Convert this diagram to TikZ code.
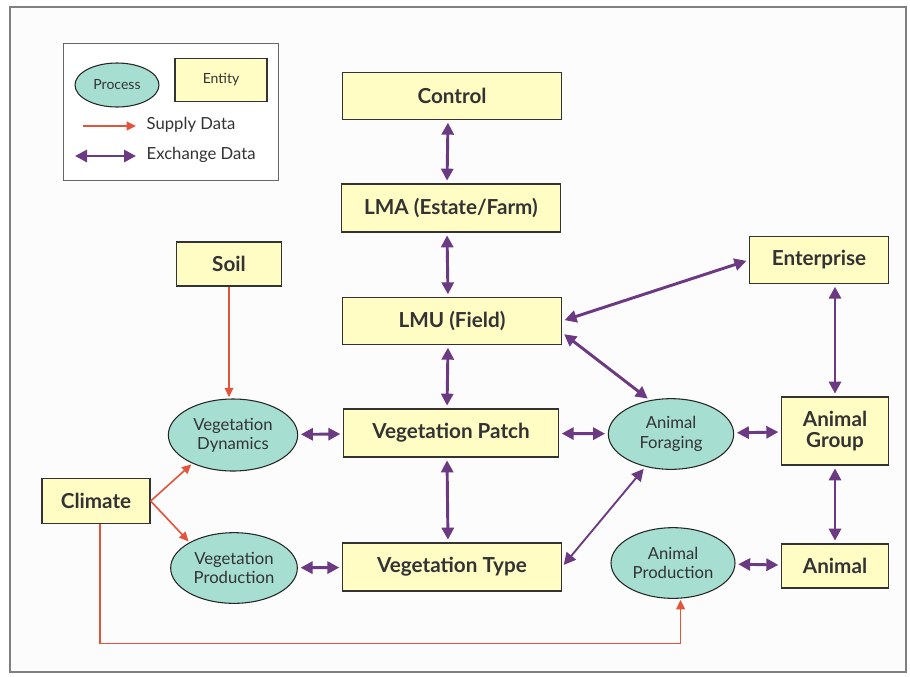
\documentclass[tikz,border=0pt]{standalone}
\usepackage{fontspec}
\setmainfont{Lato}
\usetikzlibrary{arrows.meta,shapes.geometric}

\definecolor{entityfill}{HTML}{FFFDC4}
\definecolor{processfill}{HTML}{A6DFD1}
\definecolor{exchpurple}{HTML}{6B3A82}
\definecolor{supplyred}{HTML}{E2553A}
\definecolor{textgray}{HTML}{333333}

\begin{document}
\begin{tikzpicture}[x=0.75pt, y=-0.75pt,
    entity/.style={rectangle, draw=black!80, line width=1pt, fill=entityfill, text=textgray, font=\fontsize{15.5}{18}\selectfont\bfseries, align=center, inner sep=2pt},
    process/.style={ellipse, draw=black!85, line width=0.8pt, fill=processfill, text=textgray, font=\fontsize{12.5}{14.5}\selectfont, align=center, inner sep=0pt},
    exchange/.style={{Triangle[length=9pt,width=9pt]}-{Triangle[length=9pt,width=9pt]}, draw=exchpurple, line width=2.2pt, shorten <=2pt, shorten >=2pt},
    thinexchange/.style={exchange, line width=1.4pt},
    supply/.style={-{Triangle[length=7pt,width=6.5pt]}, draw=supplyred, line width=1.2pt, shorten >=1pt},
    legendtext/.style={anchor=west, text=textgray, font=\fontsize{12.5}{15}\selectfont},
]
    \useasboundingbox (0,0) rectangle (910,676);
    \draw[black!50, line width=1.1pt, fill=black!1] (10,7) rectangle (906,672);

    % legend
    \node[draw=black!60, line width=0.9pt, fill=white, minimum width=161pt, minimum height=103pt] (legend) at (171,112) {};
    \node[process, minimum width=63pt, minimum height=33pt, font=\fontsize{10.5}{12}\selectfont] (legproc) at (117,85) {Process};
    \node[entity, minimum width=69pt, minimum height=32pt, font=\fontsize{10.5}{12}\selectfont] (legent) at (221,80) {Entity};
    \coordinate (sa) at (83,126);
    \coordinate (sb) at (136,126);
    \coordinate (ea) at (75,156);
    \coordinate (eb) at (136,156);
    \draw[supply, shorten >=0pt] (sa) -- (sb);
    \draw[exchange, shorten <=0pt, shorten >=0pt] (ea) -- (eb);
    \node[legendtext] (legsupply) at (142,125) {Supply Data};
    \node[legendtext] (legexch) at (142,155) {Exchange Data};

    % entities
    \node[entity, minimum width=164pt, minimum height=35pt] (control) at (452,96) {Control};
    \node[entity, minimum width=164pt, minimum height=36pt] (lma) at (451,208) {LMA (Estate/Farm)};
    \node[entity, minimum width=164pt, minimum height=35pt] (lmu) at (452,321) {LMU (Field)};
    \node[entity, minimum width=161pt, minimum height=36pt] (vegpatch) at (451,433) {Vegetation Patch};
    \node[entity, minimum width=164pt, minimum height=36pt] (vegtype) at (452,567) {Vegetation Type};
    \node[entity, minimum width=79pt, minimum height=33pt] (soil) at (229,264) {Soil};
    \node[entity, minimum width=81pt, minimum height=34pt] (climate) at (96,501) {Climate};
    \node[entity, minimum width=104pt, minimum height=35pt] (enterprise) at (819,260) {Enterprise};
    \node[entity, minimum width=80pt, minimum height=51pt] (animgroup) at (835,431) {Animal\\[-2pt]Group};
    \node[entity, minimum width=80pt, minimum height=33pt] (animal) at (835,566) {Animal};

    % processes
    \node[process, minimum width=97pt, minimum height=54pt] (vegdyn) at (233,435) {Vegetation\\Dynamics};
    \node[process, minimum width=95pt, minimum height=53pt] (vegprod) at (234,568) {Vegetation\\Production};
    \node[process, minimum width=94pt, minimum height=53pt] (foraging) at (671,434) {Animal\\Foraging};
    \node[process, minimum width=93pt, minimum height=53pt] (animprod) at (673,563) {Animal\\Production};

    % exchange data
    \draw[exchange] ([xshift=-3pt]control.south) -- ([xshift=-3pt]lma.north);
    \draw[exchange] ([xshift=-3pt]lma.south) -- ([xshift=-3pt]lmu.north);
    \draw[exchange] ([xshift=-3pt]lmu.south) -- ([xshift=-3pt]vegpatch.north);
    \draw[exchange] ([xshift=-3pt]vegpatch.south) -- ([xshift=-3pt]vegtype.north);
    \draw[exchange] (lmu.east) -- (enterprise.west);
    \draw[exchange] (lmu.-6) -- (foraging.122);
    \draw[exchange] (animgroup.north |- enterprise.south) -- (animgroup.north);
    \draw[exchange] (animgroup) -- (animal);
    \draw[exchange] (vegdyn) -- (vegpatch);
    \draw[exchange] (vegpatch) -- (foraging);
    \draw[exchange] (foraging) -- (animgroup);
    \draw[exchange] (vegprod) -- (vegtype);
    \draw[exchange] (animprod) -- (animal);
    \draw[thinexchange] (foraging.232) -- (vegtype.east);

    % supply data
    \draw[supply] (soil.south) -- (soil.south |- vegdyn.north);
    \draw[supply] (climate.east) -- (vegdyn.215);
    \draw[supply] (climate.east) -- (vegprod.150);
    \draw[supply] ([xshift=3pt]climate.south) -- ++(0,119) -| (animprod.-78);
\end{tikzpicture}
\end{document}
